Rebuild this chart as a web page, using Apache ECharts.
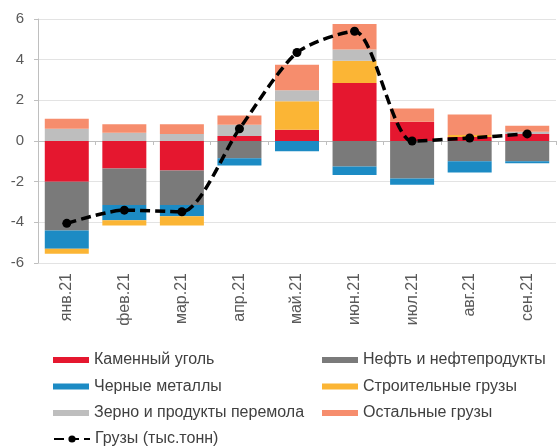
<!DOCTYPE html>
<html>
<head>
<meta charset="utf-8">
<script src="https://cdn.jsdelivr.net/npm/echarts@6/dist/echarts.min.js"></script>
<style>
html,body{margin:0;padding:0;background:#fff;}
#chart{width:557px;height:448px;}
</style>
</head>
<body>
<div id="chart"></div>
<script>
// месяцы
var months = ['янв.21','фев.21','мар.21','апр.21','май.21','июн.21','июл.21','авг.21','сен.21'];
// вклад групп грузов
var coal = [-2.0, -1.35, -1.45, 0.25, 0.55, 2.85, 0.95, 0.2, 0.35];
var oil = [-2.4, -1.8, -1.7, -0.85, 0, -1.25, -1.85, -1.0, -1.0];
var metals = [-0.9, -0.75, -0.55, -0.35, -0.5, -0.42, -0.3, -0.55, -0.1];
var construction = [-0.25, -0.25, -0.45, 0, 1.4, 1.1, 0, 0.1, 0];
var grain = [0.6, 0.4, 0.35, 0.55, 0.55, 0.55, 0, 0, 0.1];
var other = [0.5, 0.42, 0.47, 0.45, 1.25, 1.25, 0.65, 1.0, 0.3];
var total = [-4.05, -3.4, -3.48, 0.6, 4.35, 5.4, 0.0, 0.15, 0.35];
var yTicks = {min: -6, max: 6, step: 2};

var font = 'Liberation Sans, Arial, sans-serif';
var chart = echarts.init(document.getElementById('chart'));

function bar(name, data, color){
	return {
		name: name,
		type: 'bar',
		stack: 'all',
		barWidth: 44,
		data: data,
		itemStyle: {color: color},
		emphasis: {disabled: true}
	};
}

var legendBase = {
	orient: 'vertical',
	itemWidth: 36,
	itemHeight: 6,
	itemGap: 10.5,
	icon: 'rect',
	selectedMode: false,
	textStyle: {fontFamily: font, fontSize: 16, color: '#404040', lineHeight: 16}
};

var option = {
	animation: false,
	grid: {left: 38, right: 1, top: 19, bottom: 185},
	legend: [
		Object.assign({}, legendBase, {left: 48, top: 347, data: ['Каменный уголь','Черные металлы','Зерно и продукты перемола']}),
		Object.assign({}, legendBase, {left: 317, top: 347, data: ['Нефть и нефтепродукты','Строительные грузы','Остальные грузы']}),
		Object.assign({}, legendBase, {left: 48, top: 426, icon: null, itemHeight: 9, data: ['Грузы (тыс.тонн)']})
	],
	xAxis: [{
		type: 'category',
		data: months,
		position: 'bottom',
		axisLine: {onZero: false, show: false},
		axisTick: {show: false},
		axisLabel: {rotate: 90, margin: 10, fontFamily: font, fontSize: 16, color: '#595959'}
	},{
		type: 'category',
		data: months,
		position: 'bottom',
		axisLine: {onZero: true, lineStyle: {color: '#BFBFBF'}},
		axisTick: {show: true, length: 4, lineStyle: {color: '#BFBFBF'}},
		axisLabel: {show: false}
	}],
	yAxis: {
		type: 'value',
		min: yTicks.min,
		max: yTicks.max,
		interval: yTicks.step,
		axisLine: {show: true, lineStyle: {color: '#BFBFBF'}},
		axisTick: {show: true, length: 4, lineStyle: {color: '#BFBFBF'}},
		axisLabel: {fontFamily: font, fontSize: 15, color: '#595959', margin: 14},
		splitLine: {lineStyle: {color: '#E3E3E3'}}
	},
	series: [
		bar('Каменный уголь', coal, '#E5172F'),
		bar('Нефть и нефтепродукты', oil, '#7A7A7A'),
		bar('Черные металлы', metals, '#1C8BC4'),
		bar('Строительные грузы', construction, '#FBB535'),
		bar('Зерно и продукты перемола', grain, '#BEBEBE'),
		bar('Остальные грузы', other, '#F68D6D'),
		{
			name: 'Грузы (тыс.тонн)',
			type: 'line',
			data: total,
			smooth: 0.25,
			symbol: 'circle',
			symbolSize: 9,
			itemStyle: {color: '#000'},
			lineStyle: {color: '#000', width: 3.5, type: [10, 5]},
			z: 5
		}
	]
};
chart.setOption(option);
</script>
</body>
</html>
